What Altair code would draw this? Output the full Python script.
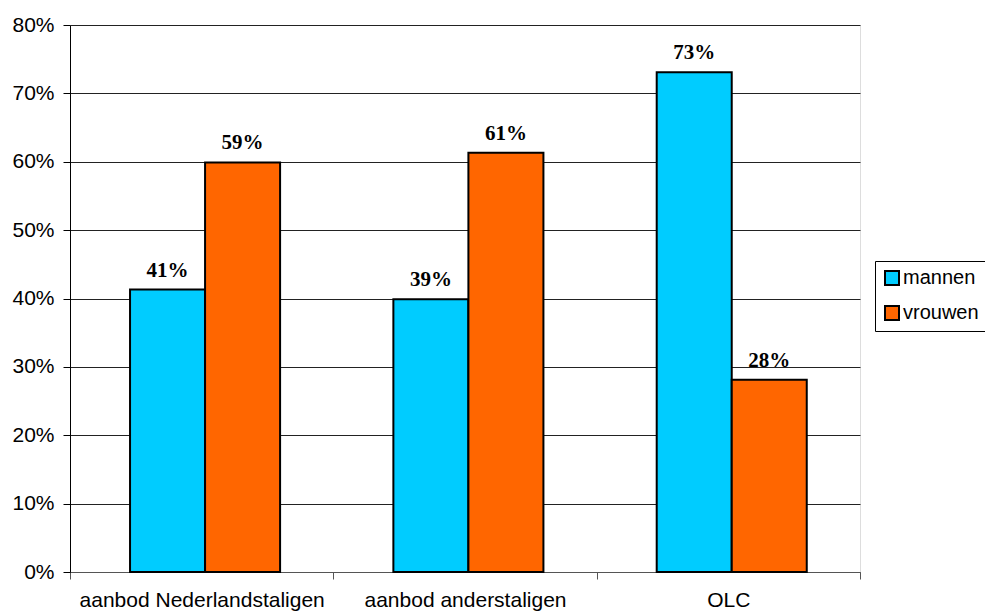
import altair as alt
import pandas as pd

categories = ["aanbod Nederlandstaligen", "aanbod anderstaligen", "OLC"]
series = ["mannen", "vrouwen"]
mannen = [41.3, 39.9, 73.1]
vrouwen = [59.9, 61.3, 28.1]
mannen_labels = ["41%", "39%", "73%"]
vrouwen_labels = ["59%", "61%", "28%"]
colors = ["#00CCFF", "#FF6600"]
y_ticks = [0, 10, 20, 30, 40, 50, 60, 70, 80]

rows = []
for i, c in enumerate(categories):
    rows.append({"category": c, "series": "mannen", "value": mannen[i], "label": mannen_labels[i]})
    rows.append({"category": c, "series": "vrouwen", "value": vrouwen[i], "label": vrouwen_labels[i]})
df = pd.DataFrame(rows)

base = alt.Chart(df).encode(
    x=alt.X(
        "category:N",
        sort=categories,
        scale=alt.Scale(paddingInner=0, paddingOuter=0),
        axis=alt.Axis(
            title=None, labelAngle=0, labelFont="Liberation Sans", labelFontSize=21,
            labelColor="black", labelPadding=10, labelLimit=0, tickBand="extent",
            tickSize=7, tickColor="#555", domainColor="#555", grid=False,
        ),
    ),
    xOffset=alt.XOffset(
        "series:N", sort=series,
        scale=alt.Scale(paddingInner=0, paddingOuter=0.755, align=0.53),
    ),
    y=alt.Y(
        "value:Q",
        scale=alt.Scale(domain=[0, 80], nice=False),
        axis=alt.Axis(
            title=None, values=y_ticks, labelExpr="datum.value + '%'",
            labelFont="Liberation Sans", labelFontSize=21, labelColor="black",
            labelPadding=9, tickSize=7, tickColor="black", domainColor="black",
            grid=True, gridColor="#222", gridWidth=1,
        ),
    ),
)

bars = base.mark_bar(stroke="black", strokeWidth=2).encode(
    color=alt.Color(
        "series:N",
        scale=alt.Scale(domain=series, range=colors),
        legend=alt.Legend(
            title=None, orient="none", legendX=805, legendY=236,
            strokeColor="black", fillColor="white", padding=7,
            symbolType="square", symbolSize=196, symbolStrokeColor="black",
            symbolStrokeWidth=2, labelFont="Liberation Sans", labelFontSize=20,
            labelColor="black", labelOffset=1, rowPadding=13,
        ),
    )
)

text = base.mark_text(
    dy=-13, baseline="alphabetic", font="Liberation Serif", fontWeight="bold",
    fontSize=21, color="black",
).encode(text="label:N")

chart = (
    alt.layer(bars, text)
    .properties(
        width=790, height=547,
        autosize=alt.AutoSizeParams(type="none"),
        padding={"left": 62, "top": 17, "right": 125, "bottom": 42},
    )
    .configure_view(stroke=None)
    .configure(background="white")
)

chart.save("out.html", embed_options={"renderer": "svg", "actions": False})
